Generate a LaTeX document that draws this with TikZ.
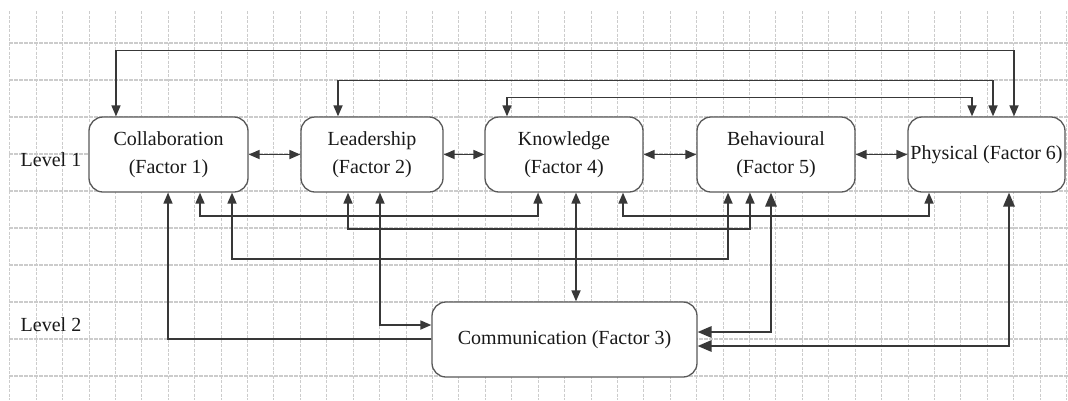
\documentclass[tikz,border=0pt]{standalone}
\usepackage{fontspec}
\setmainfont{Liberation Serif}
\usetikzlibrary{arrows.meta,calc}
\begin{document}
\begin{tikzpicture}[x=1pt,y=-1pt,
  box/.style={draw=black!65, line width=1.3pt, rounded corners=14pt, fill=white,
    minimum height=75pt, align=center, inner sep=0pt, text=black!90,
    font=\fontsize{20}{28}\selectfont},
  lvl/.style={text=black!90, font=\fontsize{20}{24}\selectfont, inner sep=0pt},
  conn/.style={draw=black!78, line width=1.7pt},
  st/.style={-{Triangle[length=11pt,width=9pt]}},
  sb/.style={{Triangle[length=11pt,width=9pt]}-{Triangle[length=11pt,width=9pt]}},
  bb/.style={{Triangle[length=14pt,width=11.5pt]}-{Triangle[length=14pt,width=11.5pt]}},
  gridv/.style={draw=black!20, line width=0.6pt, dash pattern=on 3pt off 1.5pt},
  gridh/.style={draw=black!20, line width=1.1pt, dash pattern=on 4pt off 1pt}
]
\useasboundingbox[fill=white] (0,0) rectangle (1068,400);
% grid
\foreach \i in {-1,...,39} \draw[gridv] ({36+26.42*\i},11) -- ({36+26.42*\i},400);
\foreach \j in {0,...,9} \draw[gridh] (9,{43+37*\j}) -- (1068,{43+37*\j});

% nodes
\node[box, minimum width=159pt] (collab) at (168.5,154.5) {Collaboration\\(Factor 1)};
\node[box, minimum width=142pt] (lead) at (372,154.5) {Leadership\\(Factor 2)};
\node[box, minimum width=158pt] (know) at (564,154.5) {Knowledge\\(Factor 4)};
\node[box, minimum width=158pt] (behav) at (776,154.5) {Behavioural\\(Factor 5)};
\node[box, minimum width=157pt] (phys) at (986.5,154.5) {Physical (Factor 6)};
\node[box, minimum width=265pt] (comm) at (564.5,339.5) {Communication (Factor 3)};
\node[lvl] (l1) at (51,160) {Level 1};
\node[lvl] (l2) at (51,325) {Level 2};

% neighbour links
\draw[conn,sb] (collab.east) -- (lead.west);
\draw[conn,sb] (lead.east) -- (know.west);
\draw[conn,sb] (know.east) -- (behav.west);
\draw[conn,sb] (behav.east) -- (phys.west);

% top links
\draw[conn,sb] ($(collab.north)+(-52.5,0)$) -- ++(0,-66) -| ($(phys.north)+(27.5,0)$);
\draw[conn,sb] ($(lead.north)+(-34,0)$) -- ++(0,-36) -| ($(phys.north)+(6.5,0)$);
\draw[conn,sb] ($(know.north)+(-57,0)$) -- ++(0,-19) -| ($(phys.north)+(-14.5,0)$);

% bottom links
\draw[conn,sb] ($(collab.south)+(31.5,0)$) -- ++(0,23) -| ($(know.south)+(-26,0)$);
\draw[conn,sb] ($(collab.south)+(63.5,0)$) -- ++(0,66) -| ($(behav.south)+(-48,0)$);
\draw[conn,sb] ($(lead.south)+(-24,0)$) -- ++(0,36) -| ($(behav.south)+(-26,0)$);
\draw[conn,sb] ($(know.south)+(59,0)$) -- ++(0,23) -| ($(phys.south)+(-57.5,0)$);
\draw[conn,sb] ($(lead.south)+(8,0)$) |- ($(comm.west)+(0,-14.5)$);
\draw[conn,st] ($(comm.west)+(0,-0.5)$) -| ($(collab.south)+(-0.5,0)$);
\draw[conn,sb] ($(know.south)+(12,0)$) -- ($(comm.north)+(11.5,0)$);
\draw[conn,bb] ($(behav.south)+(-5,0)$) |- ($(comm.east)+(0,-7.5)$);
\draw[conn,bb] ($(phys.south)+(22.5,0)$) |- ($(comm.east)+(0,6.5)$);
\end{tikzpicture}
\end{document}
